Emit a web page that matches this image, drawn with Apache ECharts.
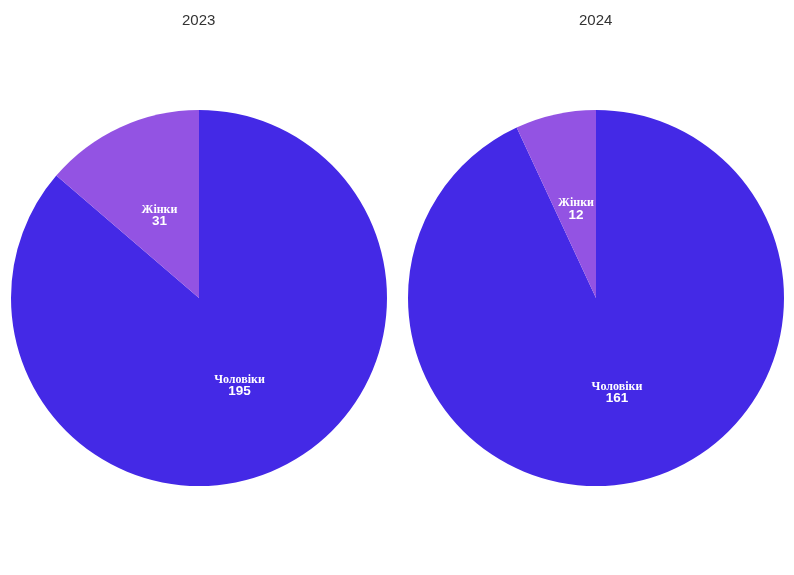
<!DOCTYPE html>
<html lang="uk">
<head>
    <meta charset="UTF-8">
    <title>Чоловіки / Жінки</title>
    <script src="https://cdn.jsdelivr.net/npm/echarts@6/dist/echarts.min.js"></script>
    <style>
        html, body { margin: 0; padding: 0; background: #fff; }
        #main { width: 794px; height: 575px; }
    </style>
</head>
<body>
<div id="main"></div>
<script type="text/javascript">
  var years = ['2023', '2024'];
  var categories = ['Чоловіки', 'Жінки'];
  var values2023 = [195, 31];
  var values2024 = [161, 12];
  var colors = ['#4429e6', '#9353e3'];

  var centersX = [199, 596];
  var titleLeft = [182, 579];
  // small nudge of the label in the narrow slice
  var labelNudge = [[0, 0], [1, 6]];

  function makeData(vals) {
    return categories.map(function (name, i) {
      return {
        name: name,
        value: vals[i],
        itemStyle: {color: colors[i]},
        label: {offset: labelNudge[i]}
      };
    });
  }

  function makeSeries(vals, i) {
    return {
      type: 'pie',
      name: years[i],
      center: [centersX[i], 298],
      radius: [0, 188],
      startAngle: 90,
      clockwise: true,
      animation: false,
      avoidLabelOverlap: false,
      label: {
        show: true,
        position: 'inside',
        formatter: '{n|{b}}\n{v|{c}}',
        rich: {
          n: {fontFamily: 'Liberation Serif', fontWeight: 'bold', fontSize: 12, color: '#fff', lineHeight: 11},
          v: {fontFamily: 'Liberation Sans', fontWeight: 'bold', fontSize: 13.5, color: '#fff', lineHeight: 12}
        }
      },
      labelLine: {show: false},
      itemStyle: {borderWidth: 0},
      emphasis: {disabled: true},
      data: makeData(vals)
    };
  }

  var myChart = echarts.init(document.getElementById('main'));
  var option = {
    backgroundColor: '#ffffff',
    title: years.map(function (y, i) {
      return {
        text: y,
        left: titleLeft[i],
        top: 13,
        padding: 0,
        textStyle: {fontFamily: 'Liberation Sans', fontSize: 15, fontWeight: 'normal', color: '#333'}
      };
    }),
    series: [makeSeries(values2023, 0), makeSeries(values2024, 1)]
  };
  myChart.setOption(option);
</script>
</body>
</html>
